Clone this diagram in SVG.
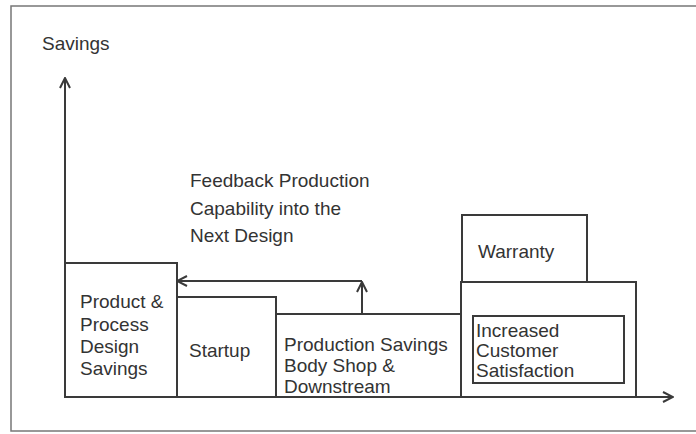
<svg xmlns="http://www.w3.org/2000/svg" width="696" height="434" viewBox="0 0 696 434">
<defs>
<style>
.box{fill:none;stroke:#3a3a3a;stroke-width:2}
.line{fill:none;stroke:#3a3a3a;stroke-width:2}
.frame{fill:none;stroke:#777;stroke-width:1.5}
text{font-family:"Liberation Sans",Arial,sans-serif;font-size:19px;fill:#333}
</style>
<marker id="arr" viewBox="0 0 12 12" refX="11" refY="6" markerWidth="12" markerHeight="12" markerUnits="userSpaceOnUse" orient="auto">
<path d="M1,1 L11,6 L1,11" fill="none" stroke="#3a3a3a" stroke-width="2"/>
</marker>
</defs>
<rect width="696" height="434" fill="#fff"/>
<path class="frame" d="M700,6 H11 V431 H700"/>
<g id="axes">
<line class="line" x1="65" y1="397" x2="65" y2="78" marker-end="url(#arr)"/>
<line class="line" x1="65" y1="397" x2="673" y2="397" marker-end="url(#arr)"/>
<text x="42" y="50">Savings</text>
</g>
<g id="design">
<rect class="box" x="65" y="263" width="112" height="134"/>
<text x="80" y="308">Product &amp;</text>
<text x="80" y="331">Process</text>
<text x="80" y="353">Design</text>
<text x="80" y="375">Savings</text>
</g>
<g id="startup">
<rect class="box" x="177" y="297" width="99" height="100"/>
<text x="189" y="357">Startup</text>
</g>
<g id="production">
<rect class="box" x="276" y="314" width="185" height="83"/>
<text x="284" y="351">Production Savings</text>
<text x="284" y="372">Body Shop &amp;</text>
<text x="284" y="393">Downstream</text>
</g>
<g id="warranty">
<rect class="box" x="462" y="215" width="125" height="67"/>
<text x="478" y="258">Warranty</text>
</g>
<g id="customer">
<rect class="box" x="461" y="282" width="175" height="115"/>
<rect class="box" x="473" y="316" width="151" height="67"/>
<text x="476" y="337">Increased</text>
<text x="476" y="357">Customer</text>
<text x="476" y="377">Satisfaction</text>
</g>
<g id="feedback-label">
<text x="190" y="187">Feedback Production</text>
<text x="190" y="215">Capability into the</text>
<text x="190" y="242">Next Design</text>
</g>
<g id="connectors">
<line class="line" x1="362" y1="314" x2="362" y2="282" marker-end="url(#arr)"/>
<line class="line" x1="362" y1="281" x2="177" y2="281" marker-end="url(#arr)"/>
</g>
</svg>
